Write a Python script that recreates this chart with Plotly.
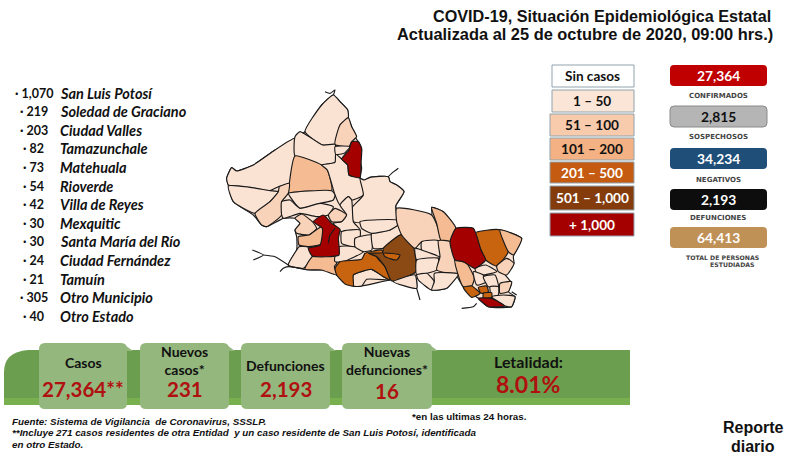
# -*- coding: utf-8 -*-
"""
covid-19 daily report, San Luis Potosi
"""
import plotly.graph_objects as go

title_lines = ['COVID-19, Situación Epidemiológica Estatal',
               'Actualizada al 25 de octubre de 2020, 09:00 hrs.)']

# municipality list
mun_values = ['1,070', '219', '203', '82', '73', '54', '42', '30', '30', '24', '21', '305', '40']
mun_names = ['San Luis Potosí', 'Soledad de Graciano', 'Ciudad Valles', 'Tamazunchale', 'Matehuala',
             'Rioverde', 'Villa de Reyes', 'Mexquitic', 'Santa María del Río', 'Ciudad Fernández',
             'Tamuín', 'Otro Municipio', 'Otro Estado']

# map legend
range_labels = ['Sin casos', '1 – 50', '51 – 100', '101 – 200', '201 – 500', '501 – 1,000', '+ 1,000']
range_colors = ['#FFFFFF', '#FBE5D6', '#F8CBAD', '#F4B183', '#C55A11', '#843C0C', '#A50000']
range_text = ['#111111', '#111111', '#111111', '#111111', '#FFFFFF', '#FFFFFF', '#FFFFFF']

# totals on the right
total_values = ['27,364', '2,815', '34,234', '2,193', '64,413']
total_colors = ['#C00000', '#B5B5B5', '#1F4E79', '#0D0D0D', '#BF9157']
total_text = ['#FFFFFF', '#111111', '#FFFFFF', '#FFFFFF', '#FFFFFF']
total_labels = ['CONFIRMADOS', 'SOSPECHOSOS', 'NEGATIVOS', 'DEFUNCIONES']

# bottom banner
banner_heads = ['Casos', 'Nuevos<br>casos*', 'Defunciones', 'Nuevas<br>defunciones*']
banner_values = ['27,364**', '231', '2,193', '16']

notes = ['Fuente: Sistema de Vigilancia  de Coronavirus, SSSLP.',
         '**Incluye 271 casos residentes de otra Entidad  y un caso residente de San Luis Potosí, identificada',
         'en otro Estado.']

# map fills look a bit paler than the legend boxes
LIGHT, MID, TAN, ORANGE, BROWN, RED = '#FBE3D4', '#F9D3B9', '#F5BC94', '#C8640F', '#8B4A14', '#A50000'

# whole state first so small gaps between the pieces stay filled
state_outline = [(340, 45), (360, 65), (383, 90), (385, 115), (395, 140), (408, 175), (418, 190), (425, 210), (420, 235),
                 (425, 265), (420, 295), (432, 300), (450, 292), (505, 290), (510, 305), (530, 315), (552, 335), (527, 378),
                 (530, 385), (635, 405), (635, 382), (670, 395), (708, 445), (760, 445), (763, 460), (840, 450), (905, 475),
                 (880, 530), (882, 550), (850, 575), (875, 610), (865, 635), (885, 650), (875, 680), (805, 680), (775, 655),
                 (730, 622), (710, 590), (680, 625), (635, 630), (590, 595), (590, 625), (520, 600), (510, 600), (425, 618),
                 (400, 618), (350, 585), (340, 570), (305, 570), (255, 568), (240, 565), (205, 555), (230, 510), (230, 470),
                 (225, 450), (240, 430), (225, 415), (190, 415), (140, 440), (125, 435), (100, 405), (40, 365), (25, 315),
                 (20, 295), (35, 263), (50, 273), (100, 255), (165, 210), (225, 175), (255, 155), (305, 75)]

# municipalities: (color, outline) in zoomed map units
regions = [
    (LIGHT, [(340, 45), (360, 65), (383, 90), (385, 113), (360, 135), (345, 193), (308, 195), (255, 155), (305, 75)]),
    (MID, [(385, 113), (395, 140), (410, 170), (395, 185), (387, 200), (345, 193), (360, 135)]),
    (LIGHT, [(25, 315), (20, 295), (35, 263), (50, 273), (100, 255), (165, 210), (225, 175), (230, 225), (208, 310), (175, 320), (150, 332), (90, 322)]),
    (LIGHT, [(225, 170), (240, 155), (308, 195), (345, 193), (348, 225), (345, 247), (305, 255), (225, 228)]),
    (TAN, [(225, 228), (305, 255), (322, 270), (335, 332), (205, 340), (208, 310)]),
    (LIGHT, [(345, 200), (390, 200), (373, 220), (347, 223)]),
    (LIGHT, [(347, 223), (365, 237), (383, 255), (387, 285), (420, 293), (430, 345), (395, 360), (385, 350), (360, 375), (345, 345), (322, 270), (305, 255), (345, 247)]),
    (LIGHT, [(420, 295), (432, 300), (450, 292), (505, 290), (510, 305), (530, 315), (552, 335), (527, 378), (530, 420), (400, 425), (395, 385), (430, 345)]),
    (LIGHT, [(25, 318), (90, 322), (150, 332), (175, 335), (150, 365), (105, 400), (40, 365)]),
    (MID, [(105, 400), (150, 365), (175, 335), (178, 320), (208, 310), (205, 340), (185, 365), (185, 405), (140, 440), (125, 435)]),
    (LIGHT, [(205, 340), (335, 332), (345, 345), (340, 360), (300, 370), (240, 385), (210, 350)]),
    (LIGHT, [(185, 365), (210, 360), (240, 385), (300, 370), (340, 380), (325, 405), (290, 410), (240, 400), (190, 415), (185, 405)]),
    (MID, [(325, 405), (345, 385), (380, 405), (365, 425), (335, 425)]),
    (LIGHT, [(360, 375), (385, 350), (395, 360), (400, 425), (420, 450), (365, 455), (340, 430), (365, 425), (380, 405)]),
    (MID, [(225, 415), (245, 402), (277, 425), (290, 445), (267, 465), (230, 460), (225, 450), (240, 430)]),
    (TAN, [(235, 470), (267, 465), (305, 440), (310, 490), (265, 500), (237, 495)]),
    (LIGHT, [(237, 500), (265, 502), (277, 530), (250, 565), (205, 555), (230, 510)]),
    (TAN, [(277, 530), (345, 528), (350, 550), (343, 560), (350, 585), (305, 570), (255, 568)]),
    (LIGHT, [(357, 500), (405, 500), (430, 515), (370, 545), (345, 545), (345, 528)]),
    (LIGHT, [(365, 455), (420, 450), (420, 470), (405, 475), (405, 500), (365, 490)]),
    (LIGHT, [(405, 475), (455, 465), (455, 510), (430, 515), (405, 500)]),
    (LIGHT, [(455, 460), (510, 450), (540, 430), (545, 463), (490, 505), (460, 505)]),
    (LIGHT, [(420, 425), (530, 420), (540, 430), (510, 450), (455, 460), (425, 445)]),
    (LIGHT, [(400, 585), (455, 568), (490, 590), (510, 600), (440, 598), (425, 618), (400, 618)]),
    (ORANGE, [(345, 565), (360, 545), (425, 538), (435, 520), (485, 510), (490, 520), (470, 530), (495, 560), (510, 600), (490, 590), (455, 568), (400, 585), (400, 618), (375, 612), (350, 585)]),
    (BROWN, [(545, 463), (580, 500), (588, 575), (515, 603), (495, 560), (470, 530), (445, 520), (488, 518), (490, 505)]),
    (ORANGE, [(490, 520), (540, 525), (530, 540), (495, 530)]),
    (LIGHT, [(520, 605), (585, 585), (590, 625)]),
    (MID, [(530, 385), (635, 405), (663, 482), (605, 485), (585, 505), (545, 465), (530, 425)]),
    (TAN, [(635, 382), (670, 395), (708, 445), (690, 485), (663, 482), (650, 430)]),
    (ORANGE, [(763, 460), (840, 450), (865, 515), (830, 558), (797, 540), (783, 510)]),
    (TAN, [(840, 450), (905, 475), (880, 525), (865, 515)]),
    (LIGHT, [(605, 485), (655, 482), (660, 530), (605, 510)]),
    (LIGHT, [(585, 505), (605, 510), (660, 532), (590, 540)]),
    (LIGHT, [(590, 540), (655, 535), (650, 570), (620, 580), (590, 585)]),
    (LIGHT, [(590, 585), (620, 580), (643, 605), (635, 630), (595, 600)]),
    (MID, [(655, 482), (690, 485), (705, 540), (715, 580), (650, 570), (660, 530)]),
    (LIGHT, [(643, 580), (715, 582), (680, 625), (635, 630), (643, 605)]),
    (TAN, [(705, 540), (740, 550), (763, 595), (755, 618), (730, 620), (713, 580)]),
    (LIGHT, [(765, 565), (797, 555), (830, 575), (790, 585), (770, 580)]),
    (MID, [(830, 558), (860, 535), (882, 550), (860, 585), (835, 575)]),
    (LIGHT, [(760, 575), (790, 585), (800, 605), (770, 615)]),
    (LIGHT, [(790, 590), (825, 585), (835, 620), (805, 620)]),
    (MID, [(840, 610), (875, 605), (865, 635), (840, 640)]),
    (LIGHT, [(810, 620), (835, 620), (835, 645), (815, 650)]),
    (ORANGE, [(730, 622), (755, 618), (780, 640), (755, 652)]),
    (ORANGE, [(775, 622), (800, 618), (805, 635), (783, 640)]),
    (LIGHT, [(815, 650), (850, 645), (885, 650), (875, 680), (855, 678)]),
    (RED, [(395, 185), (415, 185), (425, 205), (423, 250), (420, 293), (387, 285), (383, 255), (365, 237), (387, 210)]),
    (RED, [(280, 425), (310, 405), (335, 430), (360, 448), (355, 475), (357, 525), (277, 528), (265, 505), (300, 495), (307, 445)]),
    (RED, [(708, 445), (760, 445), (783, 510), (797, 540), (765, 565), (730, 545), (705, 540), (690, 485)]),
    (ORANGE, [(790, 640), (815, 638), (815, 652), (790, 655)]),
    (RED, [(775, 655), (815, 655), (855, 678), (805, 680)]),
]

# loose border pieces
stubs = [
    [(315, 35), (330, 40), (345, 30), (340, 45)],
    [(97, 510), (130, 525), (100, 540)],
    [(130, 525), (165, 530), (205, 555)],
    [(180, 575), (190, 565), (205, 560), (245, 565)],
    [(535, 265), (515, 280), (505, 290)],
    [(590, 625), (600, 660)],
    [(725, 685), (760, 680), (770, 670)],
    [(875, 635), (890, 645)],
    [(325, 490), (330, 465), (345, 445)],
]


def rounded(x0, y0, x1, y1, r):
    return (f'M{x0 + r},{y0} L{x1 - r},{y0} Q{x1},{y0} {x1},{y0 + r} L{x1},{y1 - r} Q{x1},{y1} {x1 - r},{y1} '
            f'L{x0 + r},{y1} Q{x0},{y1} {x0},{y1 - r} L{x0},{y0 + r} Q{x0},{y0} {x0 + r},{y0} Z')


def box(x0, y0, x1, y1, r, fill, line=None, width=0):
    return dict(type='path', path=rounded(x0, y0, x1, y1, r), xref='x', yref='y', fillcolor=fill,
                line=dict(color=line or fill, width=width), layer='below')


def label(x, y, text, size, color='#111111', font='Lato', anchor='center'):
    return dict(x=x, y=y, xref='x', yref='y', text=text, showarrow=False, xanchor=anchor, yanchor='middle',
                font=dict(family=font, size=size, color=color))


def add_piece(points, color=None):
    xs = [p[0] for p in points]
    ys = [p[1] for p in points]
    line = dict(color='#1A1A1A', width=1.15, shape='spline', smoothing=0.5)
    if color:
        fig.add_trace(go.Scatter(x=xs + xs[:1], y=ys + ys[:1], xaxis='x2', yaxis='y2', mode='lines', fill='toself',
                                 fillcolor=color, line=line, hoverinfo='skip'))
    else:
        fig.add_trace(go.Scatter(x=xs, y=ys, xaxis='x2', yaxis='y2', mode='lines', line=line, hoverinfo='skip'))


fig = go.Figure()

add_piece(state_outline, LIGHT)
for color, outline in regions:
    add_piece(outline, color)
for piece in stubs:
    add_piece(piece)

shapes = []
annotations = []

# header
annotations.append(label(773, 16, f'<b>{title_lines[0]}</b>', 16.2, '#111111', 'Liberation Sans', 'right'))
annotations.append(label(775, 34, f'<b>{title_lines[1]}</b>', 16.4, '#111111', 'Liberation Sans', 'right'))

# list on the left
for i in range(len(mun_values)):
    y = 93 + i * 18.6
    annotations.append(label(33.5, y, f'<b>· {mun_values[i]}</b>', 12.5))
    annotations.append(label(58, y, f'<b><i>{mun_names[i]}</i></b>', 14.5, anchor='left'))

# legend boxes
legend_tops = [65, 90, 114, 138, 162, 186, 213]
legend_bottoms = [87, 112, 136, 160, 183, 210, 236]
legend_lefts = [552, 552, 550, 550, 550, 550, 550]
for i in range(len(range_labels)):
    shapes.append(dict(type='rect', x0=legend_lefts[i], x1=634, y0=legend_tops[i], y1=legend_bottoms[i],
                       xref='x', yref='y', fillcolor=range_colors[i], line=dict(color='#8FA3AD', width=1),
                       layer='below'))
    annotations.append(label(592, (legend_tops[i] + legend_bottoms[i]) / 2, f'<b>{range_labels[i]}</b>', 13.6,
                             range_text[i]))

# totals
total_tops = [65, 106, 148, 189, 227]
for i in range(len(total_values)):
    shapes.append(box(670, total_tops[i], 767, total_tops[i] + 21, 4, total_colors[i], '#8A8A8A' if i == 1 else None,
                      1 if i == 1 else 0))
    annotations.append(label(718, total_tops[i] + 10.5, f'<b>{total_values[i]}</b>', 13.8, total_text[i]))
label_ys = [96, 137, 180, 218]
for i in range(len(total_labels)):
    annotations.append(label(718, label_ys[i], f'<b>{total_labels[i]}</b>', 7, '#444444', 'DejaVu Sans'))
annotations.append(label(722, 257, '<b>TOTAL DE PERSONAS</b>', 6.2, '#444444', 'DejaVu Sans'))
annotations.append(label(732, 264, '<b>ESTUDIADAS</b>', 6.2, '#444444', 'DejaVu Sans'))

# banner
shapes.append(dict(type='path', xref='x', yref='y', fillcolor='#6B9E4E', line=dict(width=0), layer='below',
                   path='M4,405 L4,372 Q4,352 28,350 L630,350 L630,400 Q630,405 624,405 Z'))
shapes.append(dict(type='rect', xref='x', yref='y', x0=4, x1=630, y0=398, y1=405, fillcolor='#79B04F',
                   line=dict(width=0), layer='below'))
panel_lefts = [39, 140, 241, 342]
panel_rights = [127, 229, 330, 432]
for x0, x1 in zip(panel_lefts, panel_rights):
    shapes.append(box(x0, 343, x1, 409, 6, '#93B77D'))
    # slanted corner where the panel meets the band
    shapes.append(dict(type='path', xref='x', yref='y', fillcolor='#93B77D', line=dict(width=0), layer='below',
                       path=f'M{x1 - 5},343 L{x1 + 6},351 L{x1},351 Z'))

head_ys = [362, 360, 365, 360]
value_ys = [389, 389, 389, 391]
for i in range(len(banner_heads)):
    cx = (panel_lefts[i] + panel_rights[i]) / 2
    annotations.append(label(cx, head_ys[i], f'<b>{banner_heads[i]}</b>', 14))
    annotations.append(label(cx, value_ys[i], f'<b>{banner_values[i]}</b>', 20.5, '#B01010'))
annotations.append(label(528, 361, '<b>Letalidad:</b>', 16))
annotations.append(label(528, 384, '<b>8.01%</b>', 23, '#B01010'))

# footnotes
note_ys = [421, 432, 444]
for y, text in zip(note_ys, notes):
    annotations.append(label(10, y, f'<b><i>{text}</i></b>', 9.8, '#111111', 'Liberation Sans', 'left'))
annotations.append(label(410, 416, '<b>*en las ultimas 24 horas.</b>', 9.8, '#111111', 'Liberation Sans', 'left'))
annotations.append(label(753, 427, '<b>Reporte</b>', 16, '#111111', 'Liberation Sans'))
annotations.append(label(753, 446, '<b>diario</b>', 16, '#111111', 'Liberation Sans'))

hidden = dict(visible=False, showgrid=False, zeroline=False)
fig.update_layout(width=800, height=466, margin=dict(l=0, r=0, t=0, b=0), showlegend=False,
                  paper_bgcolor='white', plot_bgcolor='rgba(0,0,0,0)', shapes=shapes, annotations=annotations,
                  xaxis=dict(range=[0, 800], domain=[0, 1], **hidden),
                  yaxis=dict(range=[466, 0], domain=[0, 1], **hidden),
                  xaxis2=dict(range=[0, 960], domain=[220 / 800, 540 / 800], anchor='y2', **hidden),
                  yaxis2=dict(range=[780, 0], domain=[1 - 340 / 466, 1 - 80 / 466], anchor='x2', **hidden))

# page has a default body margin that would push the figure off by 8px
fig.write_html("out.html", config={'displayModeBar': False},
               post_script="document.body.style.margin='0';")
